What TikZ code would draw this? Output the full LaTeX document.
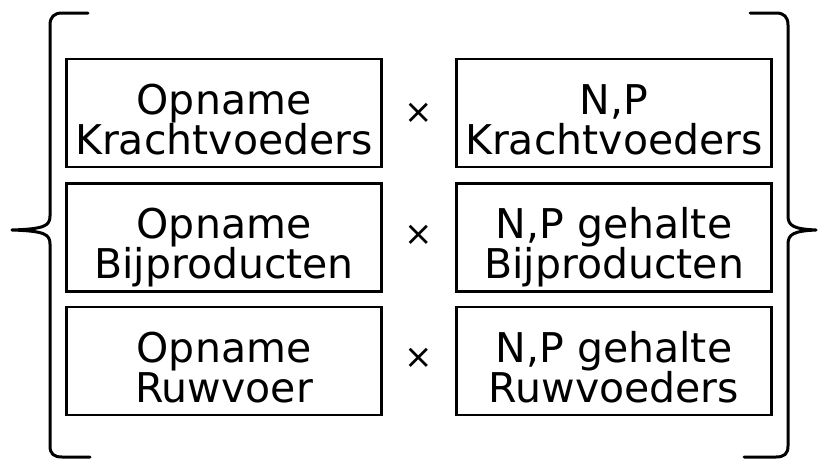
\documentclass[tikz,border=0pt]{standalone}
\usepackage{fontspec}
\setmainfont{DejaVu Sans}
\begin{document}
\begin{tikzpicture}[x=1pt,y=-1pt,
  cell/.style={draw,line width=2.6pt,minimum width=315pt,minimum height=108pt,align=center,inner sep=0pt,
    text height=82pt,text depth=0pt,
    font=\fontsize{41}{40}\selectfont},
  times/.style={font=\fontsize{34}{36}\selectfont,inner sep=0pt},
  bracket/.style={line width=3pt,line cap=round,line join=round}]
\useasboundingbox (0,0) rectangle (819,461);
\node[cell] (a1) at (224,113) {Opname\\Krachtvoeders};
\node[cell] (a2) at (224,237.5) {Opname\\Bijproducten};
\node[cell] (a3) at (224,361) {Opname\\Ruwvoer};
\node[cell] (b1) at (614,113) {N,P\\Krachtvoeders};
\node[cell] (b2) at (614,237.5) {N,P gehalte\\Bijproducten};
\node[cell] (b3) at (614,361) {N,P gehalte\\Ruwvoeders};
\node[times] (x1) at (419,113) {×};
\node[times] (x2) at (419,235) {×};
\node[times] (x3) at (419,358) {×};
\draw[bracket] (88,13) -- (62,13) .. controls (54,13) and (50,17) .. (50,25) -- (50,216)
  .. controls (50,226) and (44,229) .. (12,230)
  .. controls (44,231) and (50,234) .. (50,244) -- (50,446)
  .. controls (50,454) and (54,457) .. (62,457) -- (90,457);
\draw[bracket] (750,13) -- (776,13) .. controls (784,13) and (788,17) .. (788,25) -- (788,216)
  .. controls (788,226) and (794,229) .. (816,230)
  .. controls (794,231) and (788,234) .. (788,244) -- (788,446)
  .. controls (788,454) and (784,457) .. (776,457) -- (744,457);
\end{tikzpicture}
\end{document}
